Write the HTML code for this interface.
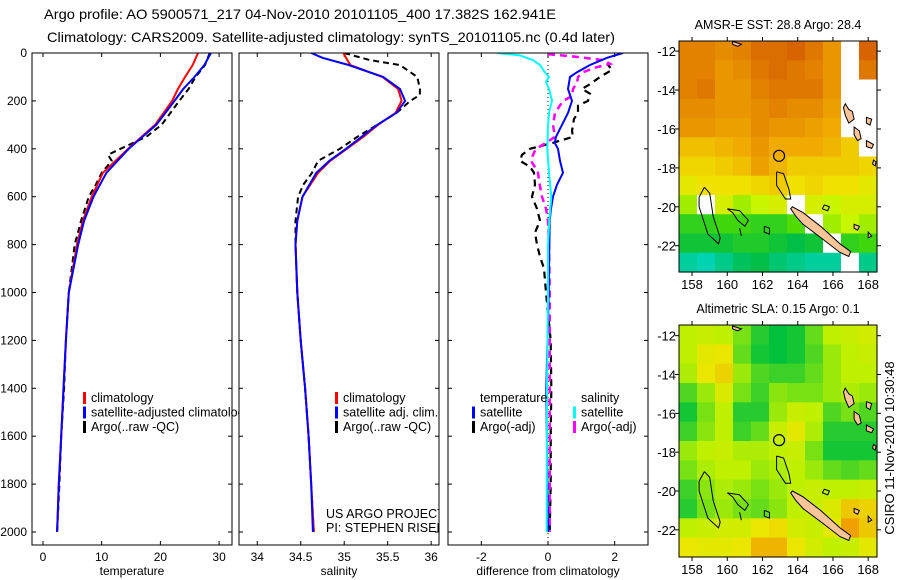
<!DOCTYPE html>
<html><head><meta charset="utf-8"><style>
html,body{margin:0;padding:0;background:#fff;}
svg{display:block;font-family:"Liberation Sans",sans-serif;}
</style></head><body>
<svg id="root" width="900" height="580" viewBox="0 0 900 580" xmlns="http://www.w3.org/2000/svg">
<rect width="900" height="580" fill="#fff"/>
<text x="44" y="19" font-size="14" textLength="512" lengthAdjust="spacingAndGlyphs">Argo profile: AO 5900571_217 04-Nov-2010 20101105_400 17.382S 162.941E</text>
<text x="47" y="42" font-size="14" textLength="568" lengthAdjust="spacingAndGlyphs">Climatology: CARS2009. Satellite-adjusted climatology: synTS_20101105.nc (0.4d later)</text>
<text transform="translate(894,448) rotate(-90)" font-size="13" text-anchor="middle">CSIRO 11-Nov-2010 10:30:48</text>
<g id="plots"></g>
</svg>
<script>
// ---------- profile data ----------
const tDepth   = [0,50,100,150,200,300,400,500,600,700,800,1000,1200,1400,1600,1800,2000];
const tClim    = [26.4,25.5,24.2,23.0,22.0,19.1,14.5,10.2,8.3,6.8,5.8,4.4,3.9,3.5,3.1,2.7,2.4];
const tSat     = [28.6,27.5,25.8,23.9,22.4,19.3,14.6,10.8,8.6,7.0,6.0,4.4,3.9,3.5,3.1,2.7,2.4];
const aDepth   = [0,50,100,150,200,250,300,350,400,425,450,500,550,600,700,800,1000,1200,1400,1600,1800,2000];
const tArgo    = [28.4,27.6,26.0,24.8,23.2,21.7,20.2,17.6,13.2,11.1,11.7,10.0,9.0,7.8,6.5,5.4,4.4,3.9,3.6,3.1,2.8,2.4];
const sDepth   = [0,20,50,100,150,200,250,300,350,400,450,500,550,600,700,800,1000,1200,1400,1600,1800,2000];
const sClim    = [34.99,35.02,35.07,35.44,35.62,35.66,35.59,35.39,35.22,35.03,34.84,34.70,34.61,34.52,34.46,34.44,34.46,34.50,34.55,34.59,34.62,34.65];
const sSat     = [34.62,34.75,35.05,35.45,35.64,35.70,35.60,35.38,35.20,35.02,34.83,34.68,34.60,34.52,34.46,34.44,34.46,34.50,34.55,34.59,34.62,34.64];
const sArgoD   = [0,30,50,100,150,175,200,250,300,350,400,430,450,500,550,600,700,800,1000,1200,1400,1600,1800,2000];
const sArgo    = [35.0,35.30,35.64,35.84,35.87,35.87,35.76,35.60,35.38,35.15,34.95,34.80,34.70,34.63,34.53,34.47,34.44,34.44,34.46,34.50,34.55,34.59,34.62,34.65];
const dTSatD   = [0,20,50,80,100,150,200,250,300,350,375,400,450,500,550,600,650,700,1000,1400,2000];
const dTSat    = [2.25,1.77,1.26,0.87,0.66,0.60,0.72,0.60,0.42,0.24,0.20,0.30,0.36,0.45,0.27,0.15,0.09,0.05,0.02,-0.05,0.0];
const dTArgoD  = [40,50,70,100,130,150,170,200,220,250,275,300,325,350,375,400,425,450,475,500,550,600,650,700,750,800,850,900,1000,1200,1400,1600,1800,2000];
const dTArgo   = [1.86,1.80,1.92,1.56,1.26,1.02,1.26,1.20,0.90,0.90,0.78,0.75,0.72,0.75,0.15,-0.54,-0.78,-0.84,-0.54,-0.42,-0.39,-0.48,-0.33,-0.24,-0.39,-0.33,-0.24,-0.12,-0.06,0.08,0.10,0.08,0.08,0.05];
const dSSatD   = [0,10,30,50,80,100,120,150,200,250,300,400,500,600,700,800,1000,1400,2000];
const dSSat    = [-1.53,-0.84,-0.45,-0.24,-0.10,0.03,-0.06,0.03,0.12,0.03,0.0,-0.02,0.03,0.10,0.04,0.0,0.0,-0.03,-0.04];
const dSArgoD  = [5,15,30,45,60,80,100,125,150,180,200,250,300,350,375,400,425,450,475,500,550,600,650,700,800,1000,1400,2000];
const dSArgo   = [0.0,0.8,1.65,1.86,1.44,1.05,0.90,0.87,0.75,0.72,0.45,0.21,0.15,0.21,-0.06,-0.36,-0.45,-0.51,-0.40,-0.30,-0.25,-0.18,-0.06,0.0,0.03,0.05,0.05,0.05];
const depthTicks = [0,200,400,600,800,1000,1200,1400,1600,1800,2000];
const tTicks = [0,10,20,30];
const sTicks = [34,34.5,35,35.5,36];
const sTickLabels = ["34","34.5","35","35.5","36"];
const dTicks = [-2,0,2];

// ---------- map data (1-degree-ish cells, rows N->S, cols W->E) ----------
const sstGrid = [
[28.9,28.9,28.8,28.9,29.1,29.1,29.2,29.0,28.7,null,29.2],
[28.9,28.9,28.7,28.8,29.0,29.1,29.0,28.9,28.7,null,29.0],
[28.9,29.0,28.7,28.7,28.9,29.0,29.0,29.0,28.7,null,null],
[28.8,28.8,28.7,28.7,28.8,28.9,28.8,28.8,28.6,null,null],
[28.7,28.7,28.6,28.6,28.8,28.7,28.7,28.6,28.5,null,null],
[28.3,28.3,28.4,28.5,28.7,28.5,28.5,28.5,28.4,28.2,null],
[28.1,28.1,28.2,28.3,28.6,28.4,28.2,28.2,28.2,28.2,28.1],
[27.9,28.0,28.0,28.0,28.1,28.2,28.0,28.1,28.0,28.0,27.9],
[27.6,null,27.8,27.6,27.7,27.8,null,27.8,27.7,27.8,27.8],
[27.2,27.2,27.3,27.3,27.2,27.2,27.4,null,27.6,27.7,27.6],
[27.0,27.0,27.0,27.1,27.1,27.0,26.9,27.0,null,27.2,27.3],
[26.5,26.4,26.6,26.8,26.9,26.7,26.6,26.5,26.5,null,26.6]];
const slaGrid = [
[0.12,0.13,0.12,0.08,0.04,0.02,0.03,0.07,0.12,0.13,0.14],
[0.12,0.16,0.17,0.07,0.03,0.02,0.03,0.06,0.10,0.12,0.13],
[0.11,0.17,0.19,0.10,0.06,0.05,0.05,0.07,0.10,0.12,0.12],
[0.06,0.10,0.15,0.08,0.05,0.09,0.08,0.08,0.10,0.11,0.10],
[0.03,0.08,0.12,0.04,0.04,0.10,0.13,0.12,0.06,0.08,0.06],
[0.05,0.09,0.12,0.05,0.07,0.13,0.16,0.11,0.04,0.04,0.04],
[0.10,0.12,0.13,0.11,0.11,0.12,0.13,0.08,0.03,0.03,0.03],
[0.08,0.11,0.12,0.12,0.10,0.11,0.12,0.10,0.07,0.06,0.07],
[0.05,0.09,0.11,0.10,0.08,0.10,0.12,0.13,0.12,0.12,0.13],
[0.04,0.08,0.10,0.08,0.07,0.09,0.12,0.13,0.15,0.20,0.19],
[0.12,0.13,0.14,0.14,0.17,0.18,0.14,0.13,0.16,0.24,0.20],
[0.17,0.16,0.16,0.17,0.22,0.22,0.17,0.14,0.12,0.13,0.16]];
const latTicks = [-12,-14,-16,-18,-20,-22];
const lonTicks = [158,160,162,164,166,168];
const floatPos = [162.94,-17.38];
const islands = [
 [[163.7,-20.0],[164.3,-20.3],[165.3,-21.0],[166.4,-21.9],[167.0,-22.3],[166.9,-22.55],[166.4,-22.35],[165.4,-21.65],[164.3,-20.9],[163.9,-20.5],[163.6,-20.1]],
 [[166.7,-14.7],[166.9,-15.0],[167.1,-15.1],[167.2,-15.5],[166.9,-15.7],[166.7,-15.3],[166.6,-14.9]],
 [[167.2,-15.9],[167.5,-16.1],[167.6,-16.5],[167.4,-16.6],[167.2,-16.3]],
 [[167.9,-15.4],[168.2,-15.5],[168.1,-15.8],[167.9,-15.7]],
 [[167.9,-16.6],[168.3,-16.8],[168.2,-17.0],[167.9,-16.9]],
 [[168.3,-17.6],[168.45,-17.7],[168.4,-17.9],[168.25,-17.8]],
 [[167.2,-20.9],[167.5,-21.0],[167.4,-21.2],[167.2,-21.1]],
 [[168.0,-21.3],[168.2,-21.5],[168.0,-21.6]],
 [[160.3,-11.5],[160.8,-11.65],[160.6,-11.75],[160.3,-11.65]]];
const contours = [
 [[158.7,-19.0],[159.0,-19.3],[159.2,-20.5],[159.6,-21.6],[159.5,-21.9],[158.9,-21.4],[158.4,-20.0],[158.4,-19.5],[158.7,-19.0]],
 [[160.0,-20.1],[160.7,-20.2],[161.2,-20.7],[161.0,-21.0],[160.6,-20.7],[160.3,-20.3],[160.0,-20.1]],
 [[162.1,-21.0],[162.4,-21.1],[162.4,-21.4],[162.1,-21.3],[162.1,-21.0]],
 [[162.8,-18.2],[163.2,-18.3],[163.5,-19.1],[163.6,-19.6],[163.3,-19.6],[162.8,-18.9],[162.8,-18.2]],
 [[165.5,-19.9],[165.8,-20.0],[165.7,-20.2],[165.4,-20.1],[165.5,-19.9]],
 [[160.7,-21.1],[160.8,-21.5]]];

const NS="http://www.w3.org/2000/svg";
const root=document.getElementById('plots');
function mk(tag,attrs,parent){const e=document.createElementNS(NS,tag);for(const k in attrs)e.setAttribute(k,attrs[k]);(parent||root).appendChild(e);return e;}
function txt(s,x,y,opt,parent){const e=mk('text',Object.assign({x:x,y:y,'font-size':12},opt||{}),parent);e.textContent=s;return e;}

const yTop=53, yBot=545;
const yD=d=>53+d*(479/2000);

function panel(name,x0,x1,xmin,xmax,ticks,labels,xlabel,showDepthLabels){
  const g=mk('g',{});
  
  
  const xs=v=>x0+(v-xmin)/(xmax-xmin)*(x1-x0);
  const cid='clip-'+name;
  const cp=mk('clipPath',{id:cid},g);mk('rect',{x:x0,y:yTop,width:x1-x0,height:yBot-yTop},cp);
  const bg=mk('rect',{x:x0,y:yTop,width:x1-x0,height:yBot-yTop,fill:'#fff'},g);
  
  
  ticks.forEach((t,i)=>{const x=xs(t);
    mk('line',{x1:x,y1:yBot,x2:x,y2:yBot-4,stroke:'#000'},g);
    mk('line',{x1:x,y1:yTop,x2:x,y2:yTop+4,stroke:'#000'},g);
    const l=txt(labels[i],x,yBot+16,{'text-anchor':'middle'},g);
    
    });
  depthTicks.forEach(d=>{const y=yD(d);
    mk('line',{x1:x0,y1:y,x2:x0+4,y2:y,stroke:'#000'},g);
    mk('line',{x1:x1,y1:y,x2:x1-4,y2:y,stroke:'#000'},g);
    if(showDepthLabels){const l=txt(String(d),x0-5,y+4,{'text-anchor':'end'},g);
      
      }});
  const xl=txt(xlabel,(x0+x1)/2,yBot+30,{'text-anchor':'middle'},g);
  
  
  const inner=mk('g',{'clip-path':'url(#'+cid+')'},g);
  return {g,inner,xs,x0,x1};
}
function line(p,depths,vals,color,w,dash,name){
  const pts=depths.map((d,i)=>p.xs(vals[i]).toFixed(1)+','+yD(d).toFixed(1)).join(' ');
  const e=mk('polyline',{points:pts,fill:'none',stroke:color,'stroke-width':w,'stroke-dasharray':dash||'none'},p.inner);
  
  
}
function frame(p){mk('rect',{x:p.x0,y:yTop,width:p.x1-p.x0,height:yBot-yTop,fill:'none',stroke:'#000','stroke-width':1},p.g);}
function legend(p,items,x,y0,parent){
  items.forEach((it,i)=>{const y=y0+i*14.5;
    if(it.c){const m=mk('rect',{x:x,y:y-10,width:3,height:12,fill:it.c},parent||p.inner);
      
      }
    const t=txt(it.t,x+8,y,{'font-size':12.5},parent||p.inner);
    
    });
}

// temperature panel
const P1=panel('temperature-panel',32,232,-1.87,32.2,tTicks,tTicks.map(String),'temperature',true);
line(P1,aDepth,tArgo,'#000',2,'6,4','argo-temperature-line');
line(P1,tDepth,tClim,'#f00',2,null,'climatology-temperature-line');
line(P1,tDepth,tSat,'#00f',2,null,'satellite-temperature-line');
frame(P1);
// salinity panel
const P2=panel('salinity-panel',239,439,33.79,36.09,sTicks,sTickLabels,'salinity',false);
line(P2,sArgoD,sArgo,'#000',2,'6,4','argo-salinity-line');
line(P2,sDepth,sClim,'#f00',2,null,'climatology-salinity-line');
line(P2,sDepth,sSat,'#00f',2,null,'satellite-salinity-line');
legend(P2,[{c:'#f00',t:'climatology'},{c:'#00f',t:'satellite adj. clim.'},{c:'#000',t:'Argo(..raw -QC)'}],335,402);
txt('US ARGO PROJECT',326,518,{'font-size':12.5},P2.inner);
txt('PI: STEPHEN RISER',326,532,{'font-size':12.5},P2.inner);
frame(P2);
// temperature legend clipped at panel-2 edge
{const cp=mk('clipPath',{id:'clip-leg1'});mk('rect',{x:32,y:53,width:207,height:492},cp);
 const lg=mk('g',{'clip-path':'url(#clip-leg1)'});
 
 
 legend(P1,[{c:'#f00',t:'climatology'},{c:'#00f',t:'satellite-adjusted climatology'},{c:'#000',t:'Argo(..raw -QC)'}],83,402,lg);}
// difference panel
const P3=panel('difference-panel',448,648,-3.0,3.0,dTicks,dTicks.map(String),'difference from climatology',false);
mk('line',{x1:P3.xs(0),y1:yTop,x2:P3.xs(0),y2:yBot,stroke:'#000','stroke-dasharray':'1,3'},P3.inner);
line(P3,dTArgoD,dTArgo,'#000',2.2,'7,5','argo-temperature-difference');
line(P3,dSArgoD,dSArgo,'#f0f',2.5,'7,5','argo-salinity-difference');
line(P3,dTSatD,dTSat,'#00f',2,null,'satellite-temperature-difference');
line(P3,dSSatD,dSSat,'#0ff',2,null,'satellite-salinity-difference');
legend(P3,[{t:'temperature'},{c:'#00f',t:'satellite'},{c:'#000',t:'Argo(-adj)'}],472,402);
legend(P3,[{t:'salinity'},{c:'#0ff',t:'satellite'},{c:'#f0f',t:'Argo(-adj)'}],573,402);
frame(P3);

// ---------- maps ----------
function lerpC(stops,v){
  if(v<=stops[0][0])return stops[0][1];
  for(let i=1;i<stops.length;i++){if(v<=stops[i][0]){const a=stops[i-1],b=stops[i],f=(v-a[0])/(b[0]-a[0]);
    return [0,1,2].map(k=>Math.round(a[1][k]+(b[1][k]-a[1][k])*f));}}
  return stops[stops.length-1][1];
}
function toRGB(c){return 'rgb('+c.join(',')+')';}
const sstStops=[[26.3,[0,214,200]],[26.9,[0,190,70]],[27.4,[80,220,0]],[27.7,[200,245,0]],[28.0,[240,225,0]],[28.5,[240,170,0]],[29.2,[215,100,0]]];
const slaStops=[[0.02,[0,192,60]],[0.08,[120,225,20]],[0.12,[190,240,0]],[0.17,[235,230,0]],[0.24,[240,160,0]]];
function mapPanel(name,y0,y1,latTop,latBot,grid,stops,title){
  const x0=679,x1=877,lonL=157.26,lonR=168.5;
  const g=mk('g',{});
  
  
  const X=lo=>x0+(lo-lonL)/(lonR-lonL)*(x1-x0);
  const Y=la=>y0+(latTop-la)/(latTop-latBot)*(y1-y0);
  const rows=grid.length,cols=grid[0].length;
  const cw=(x1-x0)/cols,ch=(y1-y0)/rows;
  grid.forEach((row,r)=>row.forEach((v,c)=>{
    const cell=mk('rect',{x:(x0+c*cw).toFixed(2),y:(y0+r*ch).toFixed(2),width:(cw+0.6).toFixed(2),height:(ch+0.6).toFixed(2),fill:v===null?'#fff':toRGB(lerpC(stops,v))},g);
    
    
  }));
  const pts=a=>a.map(p=>X(p[0]).toFixed(1)+','+Y(p[1]).toFixed(1)).join(' ');
  contours.forEach(c=>{const e=mk('polyline',{points:pts(c),fill:'none',stroke:'#000','stroke-width':1},g);
    
    });
  islands.forEach(c=>{const e=mk('polygon',{points:pts(c),fill:'#f8c498',stroke:'#000','stroke-width':1},g);
    
    });
  const fm=mk('circle',{cx:X(floatPos[0]),cy:Y(floatPos[1]),r:5.5,fill:'none',stroke:'#000','stroke-width':1.2},g);
  
  
  mk('rect',{x:x0,y:y0,width:x1-x0,height:y1-y0,fill:'none',stroke:'#000'},g);
  latTicks.forEach(la=>{const y=Y(la);
    mk('line',{x1:x0-4,y1:y,x2:x0,y2:y,stroke:'#000'},g);mk('line',{x1:x1,y1:y,x2:x1+4,y2:y,stroke:'#000'},g);
    const l=txt(String(la),x0-3,y+5,{'text-anchor':'end','font-size':13},g);
    
    });
  lonTicks.forEach(lo=>{const x=X(lo);
    mk('line',{x1:x,y1:y1,x2:x,y2:y1+4,stroke:'#000'},g);mk('line',{x1:x,y1:y0-4,x2:x,y2:y0,stroke:'#000'},g);
    const l=txt(String(lo),x,y1+17,{'text-anchor':'middle','font-size':13},g);
    
    });
  const t=txt(title,778,y0-12,{'text-anchor':'middle','font-size':12.5},g);
  
  
}
mapPanel('sst-map',41,272,-11.48,-23.35,sstGrid,sstStops,'AMSR-E SST: 28.8 Argo: 28.4');
mapPanel('sla-map',325,557,-11.45,-23.4,slaGrid,slaStops,'Altimetric SLA: 0.15 Argo: 0.1');
</script>
</body></html>
